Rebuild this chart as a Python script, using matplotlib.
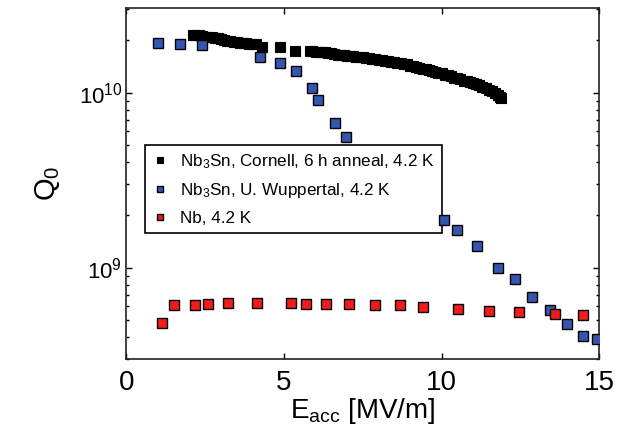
import numpy as np
import matplotlib
matplotlib.use("Agg")
import matplotlib.pyplot as plt
from matplotlib.ticker import LogLocator, FixedLocator

plt.rcParams["font.family"] = ["Liberation Sans", "DejaVu Sans"]
plt.rcParams["mathtext.fontset"] = "custom"
plt.rcParams["mathtext.rm"] = "Liberation Sans"
plt.rcParams["mathtext.it"] = "Liberation Sans:italic"

# ---------------- data ----------------
# Nb3Sn, Cornell, 6 h anneal, 4.2 K
cornell_e = [2.1, 2.2, 2.3, 2.4, 2.5, 2.6, 2.7, 2.8, 2.9, 3.0,
             3.1, 3.2, 3.3, 3.4, 3.5, 3.6, 3.7, 3.8, 3.9, 4.0, 4.1,
             4.3, 4.87, 5.35, 5.83,
             5.9, 6.0, 6.1, 6.2, 6.3, 6.4, 6.5, 6.6, 6.7, 6.8, 6.9,
             7.0, 7.1, 7.2, 7.3, 7.4, 7.5, 7.6, 7.7, 7.8, 7.9,
             8.0, 8.1, 8.2, 8.3, 8.4, 8.5, 8.6, 8.7, 8.8, 8.9,
             9.0, 9.1, 9.2, 9.3, 9.4, 9.5, 9.6, 9.7, 9.8, 9.9,
             10.0, 10.1, 10.2, 10.3, 10.4, 10.5, 10.6, 10.7, 10.8, 10.9,
             11.0, 11.1, 11.2, 11.3, 11.4, 11.5, 11.6, 11.7, 11.8, 11.85, 11.9]
cornell_q = [2.14, 2.14, 2.13, 2.12, 2.09, 2.08, 2.07, 2.06, 2.05, 2.03,
             1.99, 1.98, 1.97, 1.96, 1.95, 1.93, 1.92, 1.92, 1.91, 1.90, 1.89,
             1.82, 1.82, 1.74, 1.74,
             1.73, 1.72, 1.72, 1.71, 1.70, 1.69, 1.68, 1.67, 1.65, 1.65, 1.64,
             1.63, 1.63, 1.62, 1.61, 1.60, 1.59, 1.58, 1.57, 1.56, 1.55,
             1.54, 1.53, 1.52, 1.51, 1.50, 1.49, 1.48, 1.47, 1.46, 1.45,
             1.43, 1.42, 1.40, 1.39, 1.37, 1.36, 1.34, 1.33, 1.31, 1.30,
             1.29, 1.27, 1.26, 1.24, 1.22, 1.21, 1.19, 1.17, 1.16, 1.15,
             1.14, 1.12, 1.10, 1.08, 1.06, 1.04, 1.02, 1.00, 0.97, 0.95, 0.93]

# Nb3Sn, U. Wuppertal, 4.2 K
wupp_e = [0.99, 1.69, 2.40, 4.23, 4.87, 5.37, 5.88, 6.07, 6.61, 6.98,
          10.08, 10.50, 11.14, 11.79, 12.34, 12.86, 13.44, 13.97, 14.50, 14.95]
wupp_q = [1.93e10, 1.89e10, 1.87e10, 1.61e10, 1.48e10, 1.33e10, 1.06e10, 9.1e9, 6.7e9, 5.6e9,
          1.87e9, 1.64e9, 1.32e9, 1.0e9, 8.6e8, 6.8e8, 5.7e8, 4.76e8, 4.07e8, 3.9e8]

# Nb, 4.2 K
nb_e = [1.14, 1.52, 2.16, 2.58, 3.23, 4.15, 5.21, 5.69, 6.33, 7.06,
        7.89, 8.68, 9.41, 10.53, 11.51, 12.47, 13.59, 14.50]
nb_q = [4.85e8, 6.07e8, 6.12e8, 6.21e8, 6.31e8, 6.31e8, 6.31e8, 6.21e8, 6.21e8, 6.21e8,
        6.12e8, 6.07e8, 5.97e8, 5.78e8, 5.66e8, 5.56e8, 5.43e8, 5.36e8]

labels = [r"Nb$_\mathregular{3}$Sn, Cornell, 6 h anneal, 4.2 K",
          r"Nb$_\mathregular{3}$Sn, U. Wuppertal, 4.2 K",
          r"Nb, 4.2 K"]

# ---------------- plot ----------------
W, H = 626, 433
fig = plt.figure(figsize=(W / 100, H / 100), dpi=100)
ax = fig.add_axes([126.5 / W, 1 - 359 / H, (599 - 126.5) / W, (359 - 8) / H])

ms = 6.5
ax.plot(cornell_e, np.array(cornell_q) * 1e10, "s", color="black", ms=ms,
        mec="black", mew=0.8, label=labels[0], zorder=3)
ax.plot(wupp_e, wupp_q, "s", color="#3556ae", ms=ms, mec="black", mew=1.0,
        label=labels[1], zorder=3)
ax.plot(nb_e, nb_q, "s", color="#f01c1c", ms=ms, mec="black", mew=1.0,
        label=labels[2], zorder=3)

ax.set_yscale("log")
ax.set_xlim(0, 15)
ax.set_ylim(3e8, 3.05e10)
ax.xaxis.set_major_locator(FixedLocator([0, 5, 10, 15]))
ax.yaxis.set_major_locator(LogLocator(base=10))
ax.yaxis.set_minor_locator(LogLocator(base=10, subs=np.arange(2, 10)))
ax.yaxis.set_minor_formatter(plt.NullFormatter())

ax.tick_params(which="both", direction="in", top=True, right=True, width=1.0)
ax.tick_params(which="major", length=4)
ax.tick_params(which="minor", length=2.5)
ax.tick_params(axis="x", labelsize=20, pad=8)
ax.tick_params(axis="y", labelsize=16, pad=3)
for s in ax.spines.values():
    s.set_linewidth(1.2)
    s.set_color("#222222")

ax.set_xlabel(r"E$_\mathregular{acc}$ [MV/m]", fontsize=20, labelpad=0)
ax.set_ylabel(r"Q$_\mathregular{0}$", fontsize=21, labelpad=12)

leg = ax.legend(loc="upper left", bbox_to_anchor=(144.7 / W, 1 - 144.7 / H),
                bbox_transform=fig.transFigure, borderaxespad=0,
                fontsize=12.3, fancybox=False, framealpha=1, edgecolor="black",
                markerscale=0.75, handlelength=0.9, handletextpad=0.7,
                labelspacing=0.6, borderpad=0.45)
leg.get_frame().set_linewidth(1.2)
leg.set_zorder(2)

fig.savefig("out.png", dpi=100)
